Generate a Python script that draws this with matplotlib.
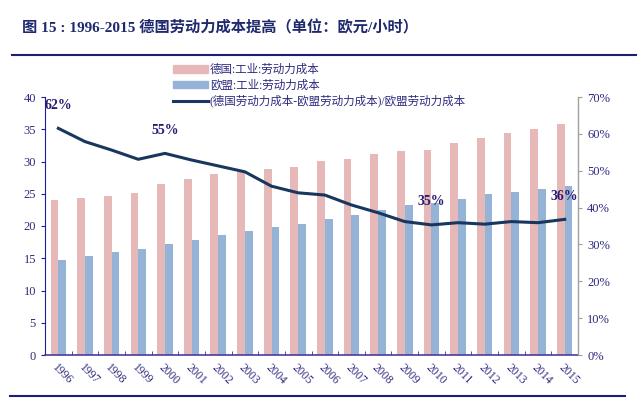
import numpy as np
import matplotlib
matplotlib.use("Agg")
import matplotlib.pyplot as plt
from matplotlib.lines import Line2D

plt.rcParams['font.family'] = ['Liberation Serif', 'Noto Sans CJK SC', 'DejaVu Sans']

# data
years = [str(y) for y in range(1996, 2016)]
germany_cost = [24.0, 24.3, 24.6, 25.1, 26.5, 27.3, 28.0, 28.4, 28.8, 29.2,
                30.1, 30.4, 31.2, 31.7, 31.8, 32.9, 33.7, 34.4, 35.0, 35.8]
eu_cost = [14.8, 15.4, 15.9, 16.5, 17.2, 17.9, 18.6, 19.2, 19.8, 20.3,
           21.1, 21.7, 22.5, 23.3, 23.5, 24.2, 24.9, 25.3, 25.8, 26.2]
gap_ratio = [61.5, 57.9, 55.6, 53.1, 54.7, 52.9, 51.3, 49.7, 45.8, 44.0,
             43.4, 40.7, 38.6, 36.2, 35.3, 35.9, 35.5, 36.2, 35.9, 36.8]
annot_idx = [0, 4, 14, 19]
annot_text = ['62%', '55%', '35%', '36%']

label_de = '德国:工业:劳动力成本'
label_eu = '欧盟:工业:劳动力成本'
label_gap = '(德国劳动力成本-欧盟劳动力成本)/欧盟劳动力成本'
title = '图 15 : 1996-2015 德国劳动力成本提高（单位：欧元/小时）'

pink = '#E6B9B8'
blue = '#95B3D7'
navy = '#17375E'
tick_col = '#2E2A7E'
text_col = '#2B1A72'

fig = plt.figure(figsize=(6.4, 3.99), dpi=100)
ax = fig.add_axes([45/640, 1-355/399, 533/640, 258/399])
ax2 = ax.twinx()

x = np.arange(len(years))
w = 0.29
ax.bar(x - w/2, germany_cost, w, color=pink, label=label_de, zorder=2)
ax.bar(x + w/2, eu_cost, w, color=blue, label=label_eu, zorder=2)
ax2.plot(x, gap_ratio, color=navy, lw=2.2, label=label_gap, zorder=3)

ax.set_xlim(-0.5, len(years) - 0.5)
ax.set_ylim(0, 40)
ax.set_yticks(range(0, 41, 5))
ax2.set_ylim(0, 70)
ax2.set_yticks(range(0, 71, 10))
ax2.set_yticklabels([f'{v}%' for v in range(0, 71, 10)])

ax.set_xticks(x)
ax.set_xticklabels(years, rotation=-45, ha='left', va='top',
                   rotation_mode='anchor', fontsize=8.5, color=tick_col)
ax.tick_params(axis='x', length=0, pad=5)
ax.set_xticks(np.arange(-0.5, len(years), 1), minor=True)
ax.tick_params(axis='x', which='minor', length=3, direction='in', color='#3A2E8A')
ax.tick_params(axis='y', labelsize=9, labelcolor=tick_col, length=3, color='#1F1F8F')
ax2.tick_params(axis='y', labelsize=9, labelcolor=tick_col, length=3, color='#A0A0A0')

for a in (ax, ax2):
    a.spines['top'].set_visible(False)
ax.spines['left'].set_color('#1F1F8F')
ax.spines['bottom'].set_color('#4B3C9A')
ax.spines['bottom'].set_linewidth(1.2)
ax2.spines['right'].set_color('#A0A0A0')
ax2.spines['left'].set_visible(False)
ax2.spines['bottom'].set_visible(False)

for i, t in zip(annot_idx, annot_text):
    ax2.annotate(t, (x[i], gap_ratio[i]), xytext=(0, 12), textcoords='offset points',
                 ha='center', va='bottom', fontsize=10, fontweight='bold', color=text_col)

handles = [plt.Rectangle((0, 0), 1, 1, color=pink),
           plt.Rectangle((0, 0), 1, 1, color=blue),
           Line2D([], [], color=navy, lw=2.2)]
leg = fig.legend(handles, [label_de, label_eu, label_gap], loc='upper left',
                 bbox_to_anchor=(165/640, 1-56/399), frameon=False, fontsize=8.3,
                 handlelength=3.0, handleheight=0.6, handletextpad=0.2, labelspacing=0.3,
                 borderpad=0.2)
for t in leg.get_texts():
    t.set_color(tick_col)

fig.text(22/640, 1-28/399, title, fontsize=11, fontweight='bold', color='#1F2A6E',
         va='center', ha='left')
fig.add_artist(Line2D([12/640, 636/640], [1-55/399, 1-55/399], color='#1A1F7A', lw=1.5))
fig.add_artist(Line2D([10/640, 625/640], [1-396/399, 1-396/399], color='#1A1F7A', lw=1.5))

fig.savefig('out.png', dpi=100)
